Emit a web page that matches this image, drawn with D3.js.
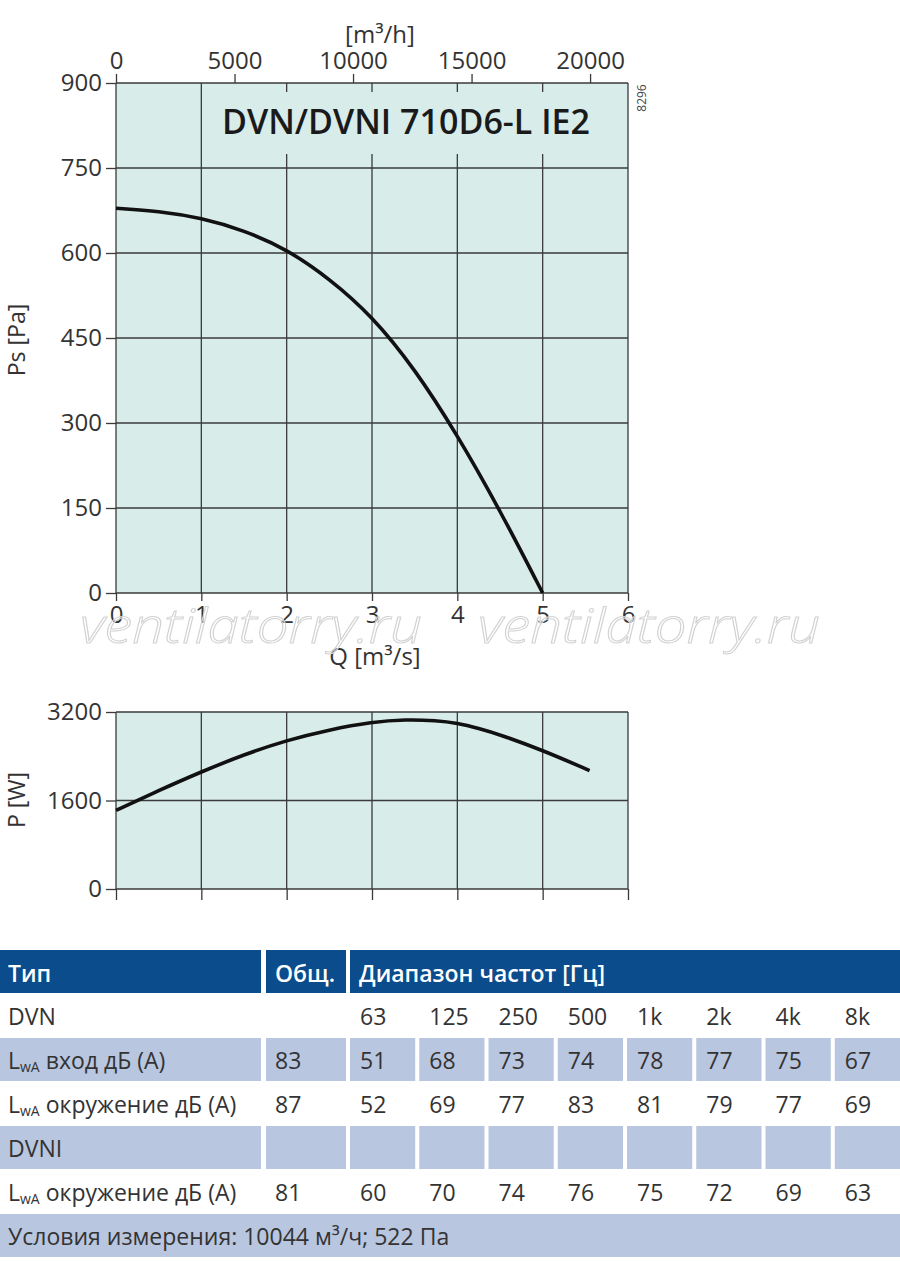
<!DOCTYPE html>
<html>
<head>
<meta charset="utf-8">
<script src="https://cdn.jsdelivr.net/npm/d3@7"></script>
<style>
  body { margin: 0; background: #fff; }
  svg { display: block; font-family: "Open Sans", sans-serif; }
  .tick text { fill: #333; font-family: "Open Sans", sans-serif; }
</style>
</head>
<body>
<svg id="chart" width="900" height="1261"></svg>
<script>
// --- data ---
var qTicks = [0, 1, 2, 3, 4, 5, 6];
var psTicks = [0, 150, 300, 450, 600, 750, 900];
var flowTicks = [0, 5000, 10000, 15000, 20000];
var powerTicks = [0, 1600, 3200];

var psQ   = [0, 0.5, 1, 1.5, 2, 2.5, 3, 3.5, 4, 4.5, 5];
var psVal = [679, 674, 662, 640, 607, 555, 489, 396, 279, 146, 0];

var powQ   = [0, 0.5, 1, 1.5, 2, 2.5, 3, 3.4, 3.75, 4, 4.25, 4.5, 5, 5.55];
var powVal = [1420, 1780, 2120, 2430, 2690, 2880, 3020, 3065, 3045, 3000, 2905, 2790, 2510, 2140];

var headers = ["Тип", "Общ.", "Диапазон частот [Гц]"];
var freqs = ["63", "125", "250", "500", "1k", "2k", "4k", "8k"];
var rowNames = ["DVN", "вход дБ (A)", "окружение дБ (A)", "DVNI", "окружение дБ (A)"];
var rowTotals = ["", "83", "87", "", "81"];
var rowValues = [
  freqs,
  [51, 68, 73, 74, 78, 77, 75, 67],
  [52, 69, 77, 83, 81, 79, 77, 69],
  ["", "", "", "", "", "", "", ""],
  [60, 70, 74, 76, 75, 72, 69, 63]
];
var rowLwa = [false, true, true, false, true];
var rowShaded = [false, true, false, true, false];
var footer = "Условия измерения: 10044 м³/ч; 522 Па";

var svg = d3.select("#chart");
var plotBg = "#d8ecea", gridCol = "#3a3a3a";
var headBlue = "#0b4c8c", cellBlue = "#b9c6df";

var x = d3.scaleLinear().domain([0, 6]).range([116, 628]);
var xh = d3.scaleLinear().domain([0, 6 * 3600]).range([116, 628]);
var y = d3.scaleLinear().domain([0, 900]).range([593, 83]);
var yp = d3.scaleLinear().domain([0, 3200]).range([889, 712]);
var fmt = d3.format("d");

function styleAxis(g) {
  g.attr("font-family", null).attr("font-size", null);
  g.select(".domain").remove();
  g.selectAll(".tick line").attr("stroke", gridCol).attr("stroke-width", 1.3);
  g.selectAll(".tick text").style("font-size", "24px");
}

// ---------- main chart ----------
svg.append("rect").attr("x", x(0)).attr("y", y(900))
  .attr("width", x(6) - x(0)).attr("height", y(0) - y(900)).attr("fill", plotBg);

svg.append("g").selectAll("line").data(qTicks).join("line")
  .attr("x1", d => x(d)).attr("x2", d => x(d))
  .attr("y1", y(900)).attr("y2", y(0))
  .attr("stroke", gridCol).attr("stroke-width", 1.3);
svg.append("g").selectAll("line").data(psTicks).join("line")
  .attr("x1", x(0)).attr("x2", x(6))
  .attr("y1", d => y(d)).attr("y2", d => y(d))
  .attr("stroke", gridCol).attr("stroke-width", 1.3);

// title box
svg.append("rect").attr("x", 210).attr("y", 92).attr("width", 402).attr("height", 62).attr("fill", plotBg);
var title = svg.append("text").attr("x", 222).attr("y", 134)
  .attr("fill", "#1a1a1a").style("font-size", "35px").style("font-weight", 600)
  .text("DVN/DVNI 710D6-L IE2");
var tl = title.node().getComputedTextLength();
if (Math.abs(tl - 368) > 4) title.attr("textLength", 368).attr("lengthAdjust", "spacingAndGlyphs");

svg.append("text").attr("transform", "translate(646,98) rotate(-90)")
  .attr("text-anchor", "middle").attr("fill", "#444").style("font-size", "12px").text("8296");

// axes
svg.append("g").attr("transform", "translate(0," + y(900) + ")")
  .call(d3.axisTop(xh).tickValues(flowTicks).tickFormat(fmt).tickSize(9).tickPadding(5)).call(styleAxis);
svg.append("g").attr("transform", "translate(" + x(0) + ",0)")
  .call(d3.axisLeft(y).tickValues(psTicks).tickFormat(fmt).tickSize(10).tickPadding(4)).call(styleAxis);
svg.append("g").attr("transform", "translate(0," + y(0) + ")")
  .call(d3.axisBottom(x).tickValues(qTicks).tickFormat(fmt).tickSize(8).tickPadding(5)).call(styleAxis);

svg.append("text").attr("x", 380).attr("y", 43).attr("text-anchor", "middle")
  .attr("fill", "#333").style("font-size", "24px").text("[m³/h]");
svg.append("text").attr("x", 375).attr("y", 665).attr("text-anchor", "middle")
  .attr("fill", "#333").style("font-size", "24px").text("Q [m³/s]");
svg.append("text").attr("transform", "translate(25,340) rotate(-90)").attr("text-anchor", "middle")
  .attr("fill", "#333").style("font-size", "23px").text("Ps [Pa]");

var line = d3.line().curve(d3.curveBasis);
svg.append("path")
  .attr("d", line(psQ.map((q, i) => [x(q), y(psVal[i])])))
  .attr("fill", "none").attr("stroke", "#111").attr("stroke-width", 3.6);

// watermark
[80, 478].forEach(function (wx) {
  svg.append("text").attr("x", wx).attr("y", 643)
    .style("font-size", "48px").style("font-style", "italic").style("font-weight", 300)
    .attr("fill", "#fff").attr("fill-opacity", 0.45)
    .attr("stroke", "#d2d2d2").attr("stroke-width", 1)
    .attr("textLength", 342).attr("lengthAdjust", "spacingAndGlyphs")
    .text("ventilatorry.ru");
});

// ---------- power chart ----------
svg.append("rect").attr("x", x(0)).attr("y", yp(3200))
  .attr("width", x(6) - x(0)).attr("height", yp(0) - yp(3200)).attr("fill", plotBg);
svg.append("g").selectAll("line").data(qTicks).join("line")
  .attr("x1", d => x(d)).attr("x2", d => x(d))
  .attr("y1", yp(3200)).attr("y2", yp(0))
  .attr("stroke", gridCol).attr("stroke-width", 1.3);
svg.append("g").selectAll("line").data(powerTicks).join("line")
  .attr("x1", x(0)).attr("x2", x(6))
  .attr("y1", d => yp(d)).attr("y2", d => yp(d))
  .attr("stroke", gridCol).attr("stroke-width", 1.3);

svg.append("g").attr("transform", "translate(" + x(0) + ",0)")
  .call(d3.axisLeft(yp).tickValues(powerTicks).tickFormat(fmt).tickSize(10).tickPadding(4)).call(styleAxis);
svg.append("g").attr("transform", "translate(0," + yp(0) + ")")
  .call(d3.axisBottom(x).tickValues(qTicks).tickSize(11).tickFormat("")).call(styleAxis);

svg.append("text").attr("transform", "translate(25,800) rotate(-90)").attr("text-anchor", "middle")
  .attr("fill", "#333").style("font-size", "23px").text("P [W]");

svg.append("path")
  .attr("d", line(powQ.map((q, i) => [x(q), yp(powVal[i])])))
  .attr("fill", "none").attr("stroke", "#111").attr("stroke-width", 3.6);

// ---------- table ----------
var fx = d3.scaleBand().domain(freqs).range([350, 900]).paddingInner(0.058);
var col1 = [0, 261], col2 = [266, 346];
var headTop = 950, rowTop = 994, rowStep = 44, rowH = 43;
var tfont = "23px";

var tbl = svg.append("g");
// header
tbl.append("rect").attr("x", col1[0]).attr("y", headTop).attr("width", col1[1] - col1[0]).attr("height", 43).attr("fill", headBlue);
tbl.append("rect").attr("x", col2[0]).attr("y", headTop).attr("width", col2[1] - col2[0]).attr("height", 43).attr("fill", headBlue);
tbl.append("rect").attr("x", 350).attr("y", headTop).attr("width", 550).attr("height", 43).attr("fill", headBlue);
[8, 275, 359].forEach(function (hx, i) {
  tbl.append("text").attr("x", hx).attr("y", headTop + 32).attr("fill", "#fff")
    .style("font-size", tfont).style("font-weight", 600).text(headers[i]);
});

rowNames.forEach(function (name, r) {
  var ty = rowTop + r * rowStep;
  if (rowShaded[r]) {
    tbl.append("rect").attr("x", col1[0]).attr("y", ty).attr("width", col1[1] - col1[0]).attr("height", rowH).attr("fill", cellBlue);
    tbl.append("rect").attr("x", col2[0]).attr("y", ty).attr("width", col2[1] - col2[0]).attr("height", rowH).attr("fill", cellBlue);
    tbl.selectAll(null).data(freqs).join("rect")
      .attr("x", d => fx(d)).attr("y", ty).attr("width", fx.bandwidth()).attr("height", rowH).attr("fill", cellBlue);
  }
  var t = tbl.append("text").attr("x", 8).attr("y", ty + 31).attr("fill", "#333").style("font-size", tfont);
  if (rowLwa[r]) {
    t.append("tspan").text("L");
    t.append("tspan").attr("dy", 3).style("font-size", "14px").text("wA");
    t.append("tspan").attr("dy", -3).text(" " + name);
  } else {
    t.text(name);
  }
  tbl.append("text").attr("x", 275).attr("y", ty + 31).attr("fill", "#333").style("font-size", tfont).text(rowTotals[r]);
  tbl.selectAll(null).data(rowValues[r]).join("text")
    .attr("x", (d, i) => fx(freqs[i]) + 10).attr("y", ty + 31)
    .attr("fill", "#333").style("font-size", tfont).text(d => d);
});

var fy = rowTop + rowNames.length * rowStep;
tbl.append("rect").attr("x", 0).attr("y", fy).attr("width", 900).attr("height", rowH).attr("fill", cellBlue);
tbl.append("text").attr("x", 8).attr("y", fy + 31).attr("fill", "#333").style("font-size", tfont).text(footer);
</script>
</body>
</html>
